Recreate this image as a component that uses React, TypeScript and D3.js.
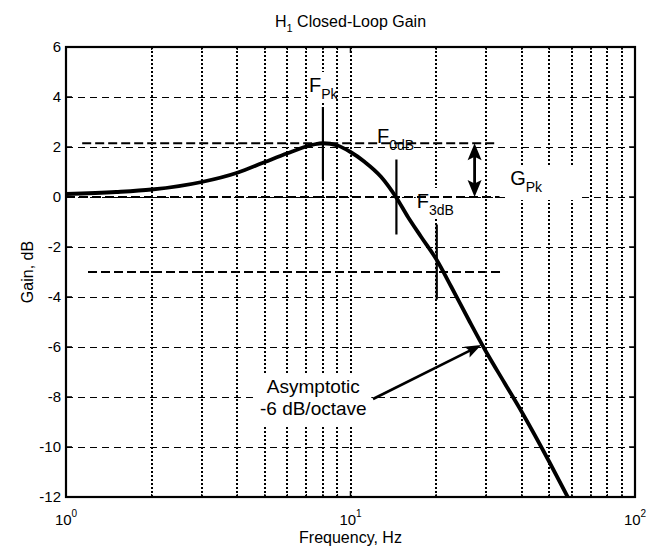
import React from "react";
import * as d3 from "d3";

// ---- data ----
const freqHz = [1, 1.5, 2, 3, 4, 5, 6, 7, 7.5, 8, 9, 10, 11.2, 12.8, 14.5, 15.9, 17.7, 20.1, 22.6, 26, 30, 34.8, 40, 50, 58];
const gainDb = [0.12, 0.2, 0.3, 0.6, 0.97, 1.4, 1.75, 2.02, 2.11, 2.15, 2.06, 1.8, 1.41, 0.81, -0.03, -0.79, -1.59, -2.52, -3.59, -4.9, -6.2, -7.44, -8.6, -10.6, -12];

const yTicks = [6, 4, 2, 0, -2, -4, -6, -8, -10, -12];
const yTickLabels = ["6", "4", "2", "0", "-2", "-4", "-6", "-8", "-10", "-12"];
const xDecades = [1, 10, 100];
const xExponents = ["0", "1", "2"];
const xMinor = [2, 3, 4, 5, 6, 7, 8, 9, 20, 30, 40, 50, 60, 70, 80, 90];

// reference (dashed) levels: gain, start freq, end freq
const refGain = [2.15, 0, -3];
const refStart = [1.14, 1, 1.195];
const refEnd = [33, 33.4, 34.4];

// marker lines: freq, gain at top, gain at bottom
const markerFreq = [8, 14.5, 20.1];
const markerTop = [3.6, 1.5, -1.1];
const markerBottom = [0.7, -1.5, -4.1];

// labels
const labelMain = ["F", "F", "F", "G"];
const labelSub = ["Pk", "0dB", "3dB", "Pk"];
const labelFreq = [7.15, 12.4, 17.1, 36.4];
const labelGain = [4.2, 2.16, -0.44, 0.48];

// G_Pk double arrow
const gPkArrowFreq = 27.3;
const gPkTop = 2.15;
const gPkBottom = 0;

// asymptote annotation
const noteLines = ["Asymptotic", "-6 dB/octave"];
const noteFreq = 7.4;
const noteGain = [-7.84, -8.72];
const noteArrowFrom = [12.0, -8.08];
const noteArrowTo = [28.8, -5.92];

const W = 649;
const H = 551;
const M = { left: 66, right: 635, top: 47, bottom: 497 };
const FONT = "'Liberation Sans', Arial, Helvetica, sans-serif";

function arrowHead(x0: number, y0: number, x1: number, y1: number, len: number, hw: number) {
  const dx = x1 - x0;
  const dy = y1 - y0;
  const d = Math.hypot(dx, dy) || 1;
  const ux = dx / d;
  const uy = dy / d;
  const bx = x1 - ux * len;
  const by = y1 - uy * len;
  const nx = bx + ux * len * 0.2;
  const ny = by + uy * len * 0.2;
  return [
    [x1, y1],
    [bx - uy * hw, by + ux * hw],
    [nx, ny],
    [bx + uy * hw, by - ux * hw],
  ]
    .map((p) => p.join(","))
    .join(" ");
}

export default function App() {
  const x = d3.scaleLog().domain([1, 100]).range([M.left, M.right]);
  const y = d3.scaleLinear().domain([-12, 6]).range([M.bottom, M.top]);

  const pts: [number, number][] = freqHz.map((f, i) => [x(f), y(gainDb[i])]);
  const line = d3.line().curve(d3.curveMonotoneX)(pts) || "";

  const gridX = [...xMinor, 10];
  const gridY = yTicks.filter((t) => t !== 6 && t !== -12);

  // label background boxes (F_Pk, F_3dB, G_Pk)
  const boxes = [0, 2, 3].map((i) => {
    const lx = x(labelFreq[i]);
    const ly = y(labelGain[i]);
    const w = i === 3 ? 72 : i === 0 ? 28 : 42;
    return { x: lx - 1, y: ly - 20, w, h: i === 3 ? 35 : 30 };
  });
  const nx = x(noteFreq);
  boxes.push({ x: nx - 60, y: y(noteGain[0]) - 20, w: 118, h: 54 });

  const gx = x(gPkArrowFreq);
  const gy0 = y(gPkTop);
  const gy1 = y(gPkBottom);

  const ax0 = x(noteArrowFrom[0]);
  const ay0 = y(noteArrowFrom[1]);
  const ax1 = x(noteArrowTo[0]);
  const ay1 = y(noteArrowTo[1]);

  const snap = (v: number) => Math.round(v) + 0.5;

  return (
    <svg width={W} height={H} style={{ position: "absolute", left: 0, top: 0, background: "#fff" }} fontFamily={FONT}>
      <rect x={0} y={0} width={W} height={H} fill="#fff" />
      <defs>
        <clipPath id="plot">
          <rect x={M.left} y={M.top} width={M.right - M.left} height={M.bottom - M.top} />
        </clipPath>
      </defs>

      {/* grid */}
      {gridX.map((f) => (
        <line key={"gx" + f} x1={Math.round(x(f))} x2={Math.round(x(f))} y1={M.top} y2={M.bottom} stroke="#000" strokeWidth={2} strokeDasharray="2,2" shapeRendering="crispEdges" />
      ))}
      {gridY.map((g) => (
        <line key={"gy" + g} x1={M.left} x2={M.right} y1={snap(y(g))} y2={snap(y(g))} stroke="#000" strokeWidth={1} strokeDasharray="7,5" shapeRendering="crispEdges" />
      ))}

      {/* label backgrounds */}
      {boxes.map((b, i) => (
        <rect key={"bx" + i} x={b.x} y={b.y} width={b.w} height={b.h} fill="#fff" />
      ))}

      {/* reference dashed levels */}
      {refGain.map((g, i) => (
        <line key={"rl" + i} x1={x(refStart[i])} x2={x(refEnd[i])} y1={y(g)} y2={y(g)} stroke="#000" strokeWidth={2} strokeDasharray="9,4" />
      ))}

      {/* markers */}
      {markerFreq.map((f, i) => (
        <line key={"mk" + i} x1={x(f)} x2={x(f)} y1={y(markerTop[i])} y2={y(markerBottom[i])} stroke="#000" strokeWidth={2.2} />
      ))}

      {/* curve */}
      <path d={line} fill="none" stroke="#000" strokeWidth={3.8} strokeLinejoin="round" clipPath="url(#plot)" />

      {/* G_Pk double arrow */}
      <line x1={gx} x2={gx} y1={gy0 + 8} y2={gy1 - 8} stroke="#000" strokeWidth={2.8} />
      <polygon points={arrowHead(gx, gy1, gx, gy0, 17, 7)} fill="#000" />
      <polygon points={arrowHead(gx, gy0, gx, gy1, 17, 7)} fill="#000" />

      {/* asymptote arrow */}
      <line x1={ax0} y1={ay0} x2={ax1 - (ax1 - ax0) * 0.1} y2={ay1 - (ay1 - ay0) * 0.1} stroke="#000" strokeWidth={2.6} />
      <polygon points={arrowHead(ax0, ay0, ax1, ay1, 16, 6)} fill="#000" />

      {/* labels */}
      {labelMain.map((m, i) => (
        <text key={"lb" + i} x={x(labelFreq[i])} y={y(labelGain[i])} fontSize={20} fill="#000">
          {m}
          <tspan fontSize={14} dy={7}>
            {labelSub[i]}
          </tspan>
        </text>
      ))}
      {noteLines.map((t, i) => (
        <text key={"nt" + i} x={nx} y={y(noteGain[i])} fontSize={19} textAnchor="middle" fill="#000">
          {t}
        </text>
      ))}

      {/* frame */}
      <rect x={M.left} y={M.top} width={M.right - M.left} height={M.bottom - M.top} fill="none" stroke="#000" strokeWidth={2.2} />

      {/* ticks */}
      {yTicks.map((t) => (
        <g key={"yt" + t}>
          <line x1={M.left} x2={M.left + 6} y1={y(t)} y2={y(t)} stroke="#000" strokeWidth={1.5} />
          <line x1={M.right} x2={M.right - 6} y1={y(t)} y2={y(t)} stroke="#000" strokeWidth={1.5} />
        </g>
      ))}
      {xDecades.map((f) => (
        <g key={"xt" + f}>
          <line x1={x(f)} x2={x(f)} y1={M.bottom} y2={M.bottom - 6} stroke="#000" strokeWidth={1.5} />
          <line x1={x(f)} x2={x(f)} y1={M.top} y2={M.top + 6} stroke="#000" strokeWidth={1.5} />
        </g>
      ))}
      {xMinor.map((f) => (
        <g key={"xm" + f}>
          <line x1={x(f)} x2={x(f)} y1={M.bottom} y2={M.bottom - 3} stroke="#000" strokeWidth={1.2} />
          <line x1={x(f)} x2={x(f)} y1={M.top} y2={M.top + 3} stroke="#000" strokeWidth={1.2} />
        </g>
      ))}

      {/* tick labels */}
      {yTicks.map((t, i) => (
        <text key={"yl" + t} x={M.left - 5} y={y(t)} dy="0.35em" fontSize={15} textAnchor="end" fill="#000">
          {yTickLabels[i]}
        </text>
      ))}
      {xDecades.map((f, i) => (
        <text key={"xl" + f} x={x(f)} y={525} fontSize={15} textAnchor="middle" fill="#000">
          10
          <tspan fontSize={10} dy={-8}>
            {xExponents[i]}
          </tspan>
        </text>
      ))}

      {/* axis titles */}
      <text x={(M.left + M.right) / 2} y={543} fontSize={16} textAnchor="middle" fill="#000">
        Frequency, Hz
      </text>
      <text transform={`translate(33, ${(M.top + M.bottom) / 2}) rotate(-90)`} fontSize={16} textAnchor="middle" fill="#000">
        Gain, dB
      </text>
      <text x={(M.left + M.right) / 2} y={27} fontSize={16} textAnchor="middle" fill="#000">
        H
        <tspan fontSize={11} dy={5}>
          1
        </tspan>
        <tspan dy={-5}> Closed-Loop Gain</tspan>
      </text>
    </svg>
  );
}
